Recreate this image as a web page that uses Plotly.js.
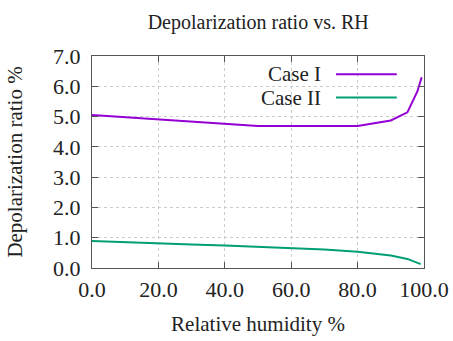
<!DOCTYPE html>
<html>
<head>
<meta charset="utf-8">
<script src="https://cdn.plot.ly/plotly-3.0.1.min.js"></script>
<style>
  html, body { margin: 0; padding: 0; background: #fff; }
  #chart { width: 453px; height: 341px; }
</style>
</head>
<body>
<div id="chart"></div>
<script>
// values
var rhCase1 = [0, 10, 20, 30, 40, 50, 60, 70, 80, 90, 95, 98, 99.3];
var depCase1 = [5.05, 4.98, 4.91, 4.84, 4.77, 4.69, 4.69, 4.68, 4.69, 4.87, 5.14, 5.83, 6.3];

var rhCase2 = [0, 10, 20, 30, 40, 50, 60, 70, 80, 90, 95, 99];
var depCase2 = [0.89, 0.86, 0.82, 0.78, 0.74, 0.70, 0.66, 0.61, 0.54, 0.41, 0.30, 0.13];

var seriesNames = ["Case I", "Case II"];
var seriesColors = ["#9400d3", "#009e73"];

var serif = "Liberation Serif, Times New Roman, serif";

var data = [
  { x: rhCase1, y: depCase1, type: "scatter", mode: "lines", name: seriesNames[0],
    line: { color: seriesColors[0], width: 2 } },
  { x: rhCase2, y: depCase2, type: "scatter", mode: "lines", name: seriesNames[1],
    line: { color: seriesColors[1], width: 2 } }
];

// gnuplot-style key: text right-aligned, sample line after it
var keyY = [0.914, 0.804];
var annotations = [], shapes = [];
seriesNames.forEach(function (nm, i) {
  annotations.push({ xref: "paper", yref: "paper", x: 0.695, y: keyY[i], text: nm,
    showarrow: false, xanchor: "right", yanchor: "middle",
    font: { family: serif, size: 21, color: "#222" } });
  shapes.push({ type: "line", xref: "paper", yref: "paper", x0: 0.735, x1: 0.918,
    y0: keyY[i], y1: keyY[i], line: { color: seriesColors[i], width: 2 } });
});

var axisCommon = {
  showline: true, mirror: "ticks", linecolor: "#555", linewidth: 1,
  ticks: "inside", ticklen: 6, tickcolor: "#555",
  showgrid: true, gridcolor: "#ccc", griddash: "dot", gridwidth: 1,
  zeroline: false, tickformat: ".1f",
  tickfont: { family: serif, size: 22, color: "#222" }
};

var layout = {
  width: 453, height: 341,
  margin: { l: 92, r: 29, t: 56, b: 73 },
  paper_bgcolor: "#fff", plot_bgcolor: "#fff",
  showlegend: false,
  title: { text: "Depolarization ratio vs. RH", x: 0.57, xanchor: "center", y: 0.955,
    font: { family: serif, size: 20, color: "#222" } },
  xaxis: Object.assign({}, axisCommon, { range: [0, 100], dtick: 20, ticklabelstandoff: 2,
    title: { text: "Relative humidity %", standoff: 14, font: { family: serif, size: 21, color: "#222" } } }),
  yaxis: Object.assign({}, axisCommon, { range: [0, 7], dtick: 1, ticklabelstandoff: 6,
    title: { text: "Depolarization ratio %", standoff: 24, font: { family: serif, size: 21, color: "#222" } } }),
  annotations: annotations,
  shapes: shapes
};

Plotly.newPlot("chart", data, layout, { displayModeBar: false, staticPlot: true });
</script>
</body>
</html>
